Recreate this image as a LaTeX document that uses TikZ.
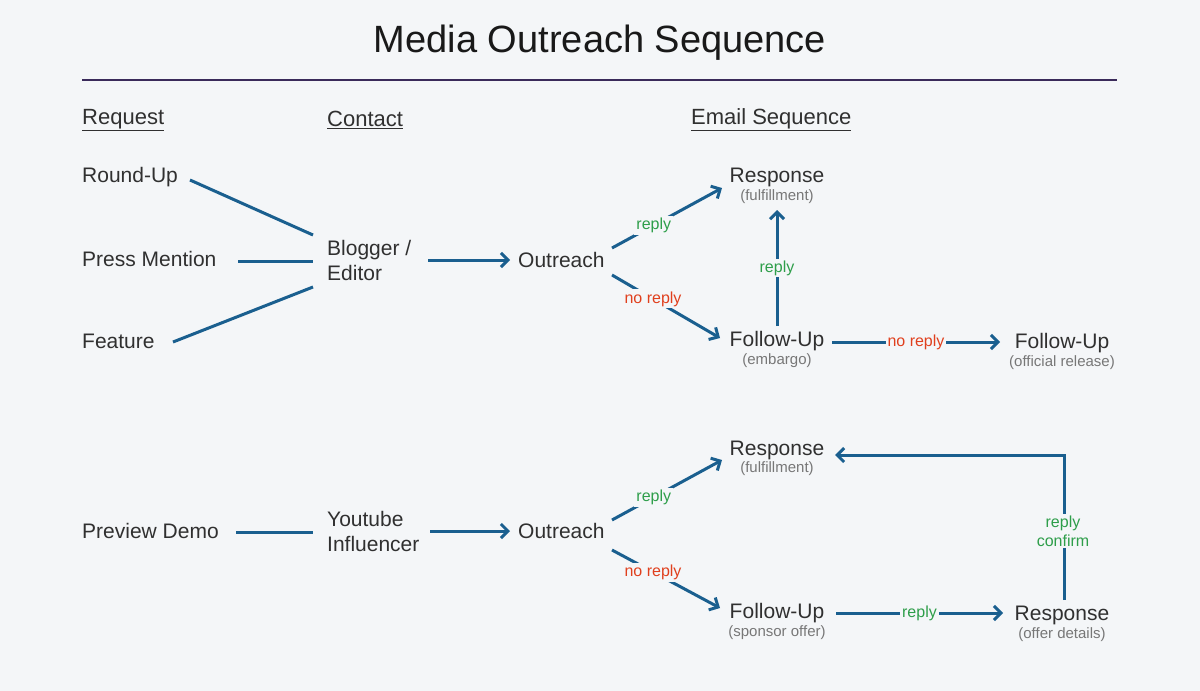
\documentclass[tikz,border=0pt]{standalone}
\usepackage{fontspec}
\setmainfont{Liberation Sans}
\usetikzlibrary{arrows.meta}
\definecolor{bg}{HTML}{F4F6F8}
\definecolor{ln}{HTML}{1A5F8F}
\definecolor{tx}{HTML}{303030}
\definecolor{sb}{HTML}{777777}
\definecolor{gr}{HTML}{2E9E4A}
\definecolor{rd}{HTML}{E0401E}
\definecolor{rule}{HTML}{3A2A5A}
\begin{document}
\begin{tikzpicture}[x=1pt,y=-1pt,
  txt/.style={font=\fontsize{21}{24}\selectfont,text=tx,inner sep=0pt},
  hd/.style={font=\fontsize{22}{24}\selectfont,text=tx,inner sep=0pt,anchor=west},
  sub/.style={font=\fontsize{15}{16}\selectfont,text=sb,inner sep=0pt},
  lab/.style={font=\fontsize{16}{17}\selectfont,fill=bg,inner sep=2pt},
  conn/.style={draw=ln,line width=3pt},
  arr/.style={conn,-{Straight Barb[length=7pt,width=14pt,line width=3pt]}}]
\fill[bg] (0,0) rectangle (1200,691);
% title
\node (title) [font=\fontsize{38}{42}\selectfont,text=black!90,inner sep=0pt] at (600,43) {Media Outreach Sequence};
\draw[rule,line width=1.5pt] (82,80) coordinate (r1) -- (1117,80) coordinate (r2);
% headers
\node (h1) [hd] at (82,120) {\underline{Request}};
\node (h2) [hd] at (327,120) {\underline{Contact}};
\node (h3) [hd] at (691,120) {\underline{Email Sequence}};
% top row
\node (ru) [txt,anchor=west] at (82,177) {Round-Up};
\node (pm) [txt,anchor=west] at (82,259) {Press Mention};
\node (fe) [txt,anchor=west] at (82,341) {Feature};
\node (be) [txt,anchor=west,align=left,font=\fontsize{21}{25}\selectfont] at (327,260) {Blogger /\\Editor};
\node (o1) [txt,anchor=west] at (518,260) {Outreach};
\node (r1t) [txt] at (777,177) {Response};
\node (r1s) [sub] at (777,197) {(fulfillment)};
\node (f1t) [txt] at (777,341) {Follow-Up};
\node (f1s) [sub] at (777,361) {(embargo)};
\node (f2t) [txt] at (1062,343) {Follow-Up};
\node (f2s) [sub] at (1062,363) {(official release)};
\coordinate (a1) at (190,180); \coordinate (a2) at (313,235);
\coordinate (b1) at (238,261); \coordinate (b2) at (313,261);
\coordinate (c1) at (173,342); \coordinate (c2) at (313,287);
\draw[conn] (a1) -- (a2);
\draw[conn] (b1) -- (b2);
\draw[conn] (c1) -- (c2);
\draw[arr] (428,260) coordinate (d1) -- (510,260) coordinate (d2);
\draw[arr] (612,248) coordinate (e1) -- node[lab,text=gr,pos=0.38] {reply} (722,188) coordinate (e2);
\draw[arr] (612,275) coordinate (g1) -- node[lab,text=rd,pos=0.38] {no reply} (720,338) coordinate (g2);
\draw[arr] (777,326) coordinate (k1) -- node[lab,text=gr] {reply} (777,210) coordinate (k2);
\draw[arr] (832,342) coordinate (m1) -- node[lab,text=rd] {no reply} (1000,342) coordinate (m2);
% bottom row
\node (pd) [txt,anchor=west] at (82,531) {Preview Demo};
\node (yi) [txt,anchor=west,align=left,font=\fontsize{21}{25}\selectfont] at (327,531) {Youtube\\Influencer};
\node (o2) [txt,anchor=west] at (518,531) {Outreach};
\node (r2t) [txt] at (777,450) {Response};
\node (r2s) [sub] at (777,469) {(fulfillment)};
\node (f3t) [txt] at (777,613) {Follow-Up};
\node (f3s) [sub] at (777,633) {(sponsor offer)};
\node (r3t) [txt] at (1062,615) {Response};
\node (r3s) [sub] at (1062,635) {(offer details)};
\draw[conn] (236,532) coordinate (p1) -- (313,532) coordinate (p2);
\draw[arr] (430,531) coordinate (q1) -- (510,531) coordinate (q2);
\draw[arr] (612,520) coordinate (s1) -- node[lab,text=gr,pos=0.38] {reply} (722,460) coordinate (s2);
\draw[arr] (612,550) coordinate (t1) -- node[lab,text=rd,pos=0.38] {no reply} (720,608) coordinate (t2);
\draw[arr] (836,613) coordinate (u1) -- node[lab,text=gr] {reply} (1003,613) coordinate (u2);
\draw[arr] (1064,600) coordinate (v1) -- (1064,455) coordinate (v2) -- (835,455) coordinate (v3);
\node (rc) [lab,text=gr,align=center,font=\fontsize{16}{19}\selectfont] at (1063,531) {reply\\confirm};
\end{tikzpicture}
\end{document}
